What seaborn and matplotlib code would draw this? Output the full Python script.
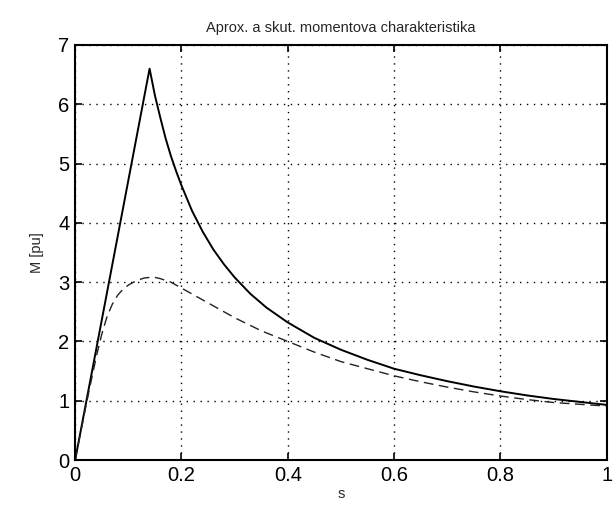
import matplotlib
matplotlib.use('Agg')
import matplotlib.pyplot as plt
import seaborn as sns
import pandas as pd

# approximated characteristic (solid)
s_aprox = [0.0, 0.14, 0.15, 0.16, 0.17, 0.18, 0.19, 0.2, 0.22, 0.24, 0.26,
           0.28, 0.3, 0.33, 0.36, 0.4, 0.45, 0.5, 0.55, 0.6, 0.65, 0.7,
           0.75, 0.8, 0.85, 0.9, 0.95, 1.0]
m_aprox = [0.0, 6.6, 6.15, 5.78, 5.43, 5.13, 4.87, 4.63, 4.2, 3.85, 3.55,
           3.3, 3.08, 2.8, 2.57, 2.32, 2.06, 1.86, 1.69, 1.54, 1.43, 1.33,
           1.24, 1.16, 1.09, 1.03, 0.98, 0.93]

# real characteristic (dashed)
s_skut = [0.0, 0.01, 0.02, 0.03, 0.04, 0.05, 0.06, 0.07, 0.08, 0.09, 0.1,
          0.11, 0.12, 0.13, 0.14, 0.15, 0.16, 0.18, 0.2, 0.22, 0.25, 0.28,
          0.3, 0.35, 0.4, 0.45, 0.5, 0.55, 0.6, 0.65, 0.7, 0.75, 0.8,
          0.85, 0.9, 0.95, 1.0]
m_skut = [0.0, 0.45, 0.9, 1.33, 1.75, 2.12, 2.42, 2.63, 2.78, 2.88, 2.95,
          3.0, 3.04, 3.07, 3.08, 3.08, 3.06, 3.0, 2.9, 2.8, 2.65, 2.5,
          2.4, 2.18, 2.0, 1.82, 1.66, 1.54, 1.42, 1.32, 1.23, 1.15, 1.08,
          1.02, 0.97, 0.94, 0.91]

x_ticks = [0, 0.2, 0.4, 0.6, 0.8, 1]
x_labels = ['0', '0.2', '0.4', '0.6', '0.8', '1']
y_ticks = [0, 1, 2, 3, 4, 5, 6, 7]

sns.set_style('ticks')
plt.rcParams['font.family'] = ['Liberation Sans', 'DejaVu Sans']

df_a = pd.DataFrame({'s': s_aprox, 'M': m_aprox})
df_s = pd.DataFrame({'s': s_skut, 'M': m_skut})

fig = plt.figure(figsize=(6.16, 5.05), dpi=100)
ax = fig.add_axes([0.122, 0.089, 0.863, 0.822])

sns.lineplot(data=df_a, x='s', y='M', ax=ax, color='black', linewidth=1.4,
             estimator=None, sort=False)
sns.lineplot(data=df_s, x='s', y='M', ax=ax, color='#222222', linewidth=1.0,
             linestyle=(0, (7, 4)), estimator=None, sort=False)

ax.set_xlim(0, 1)
ax.set_ylim(0, 7)
ax.set_xticks(x_ticks)
ax.set_xticklabels(x_labels)
ax.set_yticks(y_ticks)
ax.grid(True, color='black', linestyle=(0, (1, 4)), linewidth=1.0)
ax.tick_params(direction='in', length=5, width=1.2, top=True, right=True,
               labelsize=14.5, pad=4, colors='black')
for sp in ax.spines.values():
    sp.set_visible(True)
    sp.set_linewidth(1.5)
    sp.set_color('black')

ax.set_title('Aprox. a skut. momentova charakteristika', fontsize=10.5, pad=9)
ax.set_xlabel('s', fontsize=10.5, labelpad=2)
ax.set_ylabel('M [pu]', fontsize=10.5, labelpad=10)

fig.savefig('out.png', dpi=100, facecolor='white')
